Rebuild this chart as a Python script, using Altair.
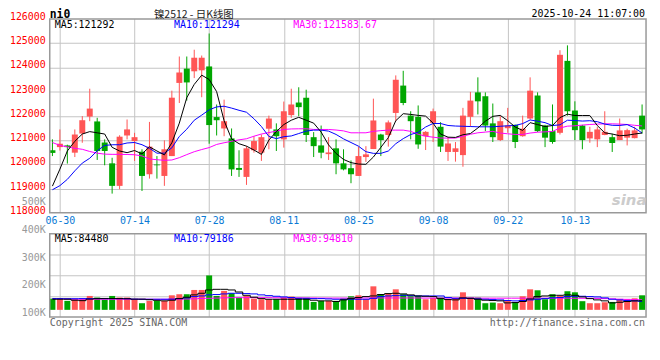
import json
import altair as alt
import pandas as pd

# ---------------- data ----------------
dates = ["06-27", "06-30", "07-01", "07-02", "07-03", "07-04",
         "07-07", "07-08", "07-09", "07-10", "07-11",
         "07-14", "07-15", "07-16", "07-17", "07-18",
         "07-21", "07-22", "07-23", "07-24", "07-25",
         "07-28", "07-29", "07-30", "07-31", "08-01",
         "08-04", "08-05", "08-06", "08-07", "08-08",
         "08-11", "08-12", "08-13", "08-14", "08-15",
         "08-18", "08-19", "08-20", "08-21", "08-22",
         "08-25", "08-26", "08-27", "08-28", "08-29",
         "09-01", "09-02", "09-03", "09-04", "09-05",
         "09-08", "09-09", "09-10", "09-11", "09-12",
         "09-15", "09-16", "09-17", "09-18", "09-19",
         "09-22", "09-23", "09-24", "09-25", "09-26",
         "09-29", "09-30", "10-09", "10-10",
         "10-13", "10-14", "10-15", "10-16", "10-17",
         "10-20", "10-21", "10-22", "10-23", "10-24"]

tick_labels = ["06-30", "07-14", "07-28", "08-11", "08-25", "09-08", "09-22", "10-13"]

opens = [120580, 120710, 120780, 120480, 121270, 121970, 121770, 120900, 120040, 119110,
         121190, 120960, 120520, 119590, 119990, 119520, 120340, 123360, 123950, 123840,
         123880, 124040, 121950, 121480, 121070, 119850, 119480, 120580, 120480, 121470,
         121440, 121030, 122030, 122550, 122750, 121120, 120780, 120420, 120660, 120040,
         119840, 119520, 120300, 120630, 121230, 121210, 122120, 123250, 122010, 121960,
         121160, 121710, 121550, 120510, 120510, 120380, 121960, 122970, 122810, 121690,
         121000, 121490, 121630, 121160, 121890, 122840, 121600, 121370, 121300, 124270,
         122220, 121600, 121070, 121030, 121210, 121120, 121000, 121100, 121080, 122010]
closes = [120470, 120850, 120710, 121230, 121820, 122300, 120550, 120550, 119110, 121140,
          121440, 121120, 119520, 120730, 119960, 120620, 122750, 123790, 123380, 124400,
          124400, 121620, 121820, 121780, 119790, 119770, 120660, 120960, 121120, 121890,
          121160, 122190, 122470, 122360, 121210, 120750, 120480, 120490, 120040, 119790,
          119590, 120340, 120410, 121810, 121000, 121730, 123490, 122530, 121780, 120820,
          121340, 122190, 120730, 120860, 120660, 122010, 122630, 122600, 121600, 121120,
          121780, 121600, 120920, 121470, 123040, 121370, 121100, 120920, 124520, 122190,
          121410, 121000, 121340, 121440, 121340, 120880, 121400, 121410, 121400, 121440]
highs = [121030, 121440, 120810, 121440, 121990, 123120, 121920, 121030, 120270, 121200,
         121850, 121300, 120620, 121750, 120340, 120990, 123040, 124450, 124450, 124730,
         124490, 125400, 122470, 122670, 121480, 120580, 120750, 121160, 121230, 122010,
         121690, 122590, 123120, 123180, 123080, 121330, 121600, 121120, 121030, 120620,
         120160, 120730, 120750, 122710, 121260, 121810, 123670, 123860, 122190, 122430,
         121370, 122300, 121740, 121120, 120920, 122330, 122990, 123590, 122970, 122510,
         121990, 122330, 121640, 122010, 123590, 122970, 121630, 122470, 124710, 124910,
         122600, 121630, 121550, 121550, 122190, 121260, 121890, 121470, 121550, 122470]
lows = [120340, 120570, 120030, 120300, 120890, 121780, 120180, 119960, 118790, 118970,
        121030, 120140, 118900, 119410, 119410, 119110, 120340, 122530, 122630, 123560,
        122770, 120850, 121190, 121160, 119520, 119480, 119150, 120480, 120140, 120620,
        120550, 120690, 121920, 121990, 120920, 120300, 120250, 120180, 119590, 119750,
        119220, 119520, 120100, 120630, 120340, 120730, 121780, 122440, 121030, 120640,
        120590, 120920, 120510, 120140, 120110, 119900, 121550, 122060, 121370, 120920,
        120960, 121300, 120670, 121140, 121850, 121330, 120710, 120850, 121230, 122010,
        121000, 120620, 120890, 120710, 121200, 120510, 121000, 120780, 121070, 121270]

ma5 = [119100, 119800, 120550, 120950, 121250, 121350, 121300, 121250, 120700, 120550,
       120480, 120570, 120430, 120720, 120550, 120390, 120890, 121700, 122750, 123300,
       123680, 123500, 123000, 121800, 121050, 120850, 120750, 120590, 120410, 121000,
       121350, 121640, 121820, 121940, 121820, 121700, 121330, 120800, 120450, 120200,
       120070, 120010, 120000, 120300, 120700, 121100, 121800, 122090, 122060, 122020,
       121990, 121700, 121250, 121120, 121110, 121220, 121270, 121500, 121780, 121980,
       122020, 121800, 121540, 121400, 121720, 121640, 121560, 121600, 121930, 122070,
       122014, 122014, 122014, 121600, 121300, 121250, 121180, 121200, 121250, 121292]
ma10 = [118950, 119120, 119380, 119730, 120050, 120250, 120560, 120780, 120808, 120808,
        120880, 120900, 120810, 120660, 120460, 120460, 120680, 121150, 121450, 121820,
        122030, 122250, 122370, 122397, 122320, 122230, 122150, 121880, 121560, 121150,
        121060, 121140, 121170, 121270, 121370, 121411, 121411, 121370, 121233, 121050,
        120900, 120750, 120520, 120452, 120452, 120548, 120850, 121060, 121230, 121320,
        121540, 121685, 121685, 121603, 121580, 121570, 121560, 121548, 121548, 121548,
        121570, 121590, 121603, 121680, 121830, 121780, 121720, 121600, 121630, 121820,
        121808, 121785, 121800, 121760, 121660, 121610, 121603, 121640, 121500, 121294]
ma30 = [120900, 120780, 120720, 120660, 120620, 120530, 120460, 120420, 120411, 120411,
        120405, 120395, 120345, 120220, 120190, 120165, 120178, 120274, 120400, 120520,
        120610, 120690, 120820, 120890, 120950, 121010, 121055, 121160, 121250, 121310,
        121370, 121440, 121460, 121466, 121466, 121440, 121438, 121438, 121415, 121380,
        121300, 121301, 121301, 121360, 121390, 121410, 121411, 121411, 121360, 121240,
        121160, 121120, 121085, 121082, 121082, 121160, 121240, 121301, 121330, 121360,
        121290, 121260, 121233, 121233, 121290, 121325, 121340, 121355, 121500, 121575,
        121590, 121620, 121644, 121660, 121671, 121671, 121660, 121644, 121610, 121583.67]

vols = [105000, 99000, 84000, 99000, 99000, 130000, 115000, 93000, 130000, 115000,
        115000, 99000, 62000, 84000, 84000, 84000, 136000, 146000, 146000, 186000,
        186000, 322000, 130000, 177000, 155000, 115000, 130000, 105000, 99000, 99000,
        99000, 115000, 124000, 108000, 108000, 74000, 84000, 84000, 84000, 105000,
        127000, 136000, 99000, 220000, 146000, 155000, 192000, 146000, 127000, 130000,
        99000, 112000, 115000, 99000, 112000, 164000, 115000, 115000, 62000, 68000,
        62000, 84000, 74000, 127000, 192000, 183000, 99000, 146000, 130000, 174000,
        164000, 81000, 62000, 62000, 71000, 74000, 99000, 99000, 108000, 136000]
vma5 = [99000, 99000, 99000, 90000, 86000, 100000, 105000, 105000, 106000, 105000,
        104000, 100000, 100000, 95000, 89000, 84000, 90000, 105000, 118000, 140000,
        155000, 186000, 192000, 192000, 186000, 167000, 136000, 118000, 105000, 99000,
        99000, 99000, 99000, 99000, 99000, 90000, 84000, 84000, 78000, 93000,
        105000, 115000, 124000, 130000, 143000, 152000, 155000, 149000, 140000, 130000,
        127000, 124000, 105000, 96000, 93000, 112000, 108000, 99000, 90000, 87000,
        84000, 65000, 68000, 78000, 102000, 124000, 130000, 136000, 136000, 140000,
        136000, 121000, 105000, 93000, 84000, 65000, 71000, 78000, 84000, 84480]
vma10 = [105000, 105000, 104000, 104000, 105000, 105000, 106000, 105000, 105000, 105000,
         104000, 100000, 99000, 99000, 99000, 99000, 100000, 105000, 112000, 124000,
         130000, 140000, 143000, 149000, 155000, 155000, 152000, 149000, 140000, 133000,
         127000, 121000, 115000, 108000, 108000, 105000, 105000, 102000, 99000, 99000,
         99000, 99000, 99000, 108000, 124000, 130000, 133000, 136000, 133000, 130000,
         130000, 130000, 130000, 115000, 108000, 108000, 108000, 102000, 99000, 96000,
         93000, 87000, 84000, 87000, 93000, 99000, 105000, 112000, 115000, 124000,
         127000, 127000, 124000, 121000, 112000, 99000, 93000, 87000, 84000, 79186]
vma30 = [104000, 103000, 102000, 100000, 100000, 99000, 99000, 99000, 99000, 99000,
         99000, 99000, 99000, 99000, 99000, 99000, 100000, 100000, 101000, 103000,
         106000, 108000, 110000, 112000, 114000, 114000, 114000, 114000, 114000, 114000,
         113000, 112000, 112000, 112000, 111000, 111000, 110000, 110000, 110000, 110000,
         110000, 111000, 111000, 111000, 111000, 111000, 111000, 111000, 111000, 111000,
         110000, 110000, 110000, 110000, 110000, 110000, 110000, 110000, 109000, 109000,
         109000, 109000, 109000, 109000, 109000, 109000, 109000, 109000, 109000, 109000,
         108000, 108000, 108000, 107000, 105000, 103000, 100000, 98000, 96000, 94810]

price_ticks = [118000, 119000, 120000, 121000, 122000, 123000, 124000, 125000, 126000]
vol_label_values = [100000, 200000, 300000, 400000, 500000]
vol_label_texts = ["100K", "200K", "300K", "400K", "500K"]

title_text = "镍2512 - 日K线图"
symbol_text = "ni0"
stamp_text = "2025-10-24 11:07:00"

# ---------------- styles / layout ----------------
MONO = "DejaVu Sans Mono"
UP = "#ff5555"
DOWN = "#00a600"
GRID = "#c4c4c4"
FRAME = "#999999"

W, H = 600, 300
P_TOP, P_BOT = 0, 195
V_TOP, V_BOT = 216, 300
X_LO, X_HI = -0.36, 79.53
P_LO, P_HI = 118000, 126000
VOL_LO, VOL_HI = -68000, 713000

n = len(dates)
tick_idx = [dates.index(d) for d in tick_labels]

df = pd.DataFrame({
    "i": list(range(n)), "date": dates,
    "open": opens, "close": closes, "high": highs, "low": lows,
    "ma5": ma5, "ma10": ma10, "ma30": ma30,
    "vol": vols, "vma5": vma5, "vma10": vma10, "vma30": vma30,
})
df["col"] = [UP if c >= o else DOWN for o, c in zip(opens, closes)]

vlab_df = pd.DataFrame({"v": vol_label_values, "lab": vol_label_texts})
ptick_df = pd.DataFrame({"p": price_ticks, "lab": [str(p) for p in price_ticks]})
one = pd.DataFrame({"k": [0]})

xscale = alt.Scale(domain=[X_LO, X_HI], nice=False, zero=False, padding=0)
xaxis = alt.Axis(values=tick_idx, labelExpr=json.dumps(dates) + "[datum.value]",
                 orient="bottom", offset=P_BOT - H, grid=False, ticks=False, domain=False,
                 labelPadding=3, labelColor="#0a7ad5", labelFont=MONO, labelFontSize=10,
                 labelOverlap=False, labelFlush=False, title=None)
X = alt.X("i:Q", scale=xscale, axis=xaxis)
COLOR = alt.Color("col:N", scale=None)

pscale = alt.Scale(domain=[P_LO, P_HI], range=[P_BOT, P_TOP], nice=False, zero=False, padding=0)
vscale = alt.Scale(domain=[VOL_LO, VOL_HI], range=[V_BOT, V_TOP], nice=False, zero=False,
                   padding=0)
vlscale = alt.Scale(domain=[86400, 386400], range=[V_BOT, V_TOP], nice=False, zero=False,
                    padding=0)


def PY(field):
    return alt.Y(field, scale=pscale, axis=None)


def VY(field):
    return alt.Y(field, scale=vscale, axis=None)


# same linear mappings as the scales above (used for the grid decoration only)
def sx(i):
    return (i - X_LO) / (X_HI - X_LO) * W


def sp(p):
    return P_BOT - (p - P_LO) / (P_HI - P_LO) * (P_BOT - P_TOP)


def box(x0, x1, y0, y1, **kw):
    return alt.Chart(one).mark_rect(**kw).encode(
        x=alt.value(x0), x2=alt.value(x1), y=alt.value(y0), y2=alt.value(y1))


def frame(top, bot):
    return box(0, W, top, bot, fillOpacity=0, stroke=FRAME, strokeWidth=1.5)


def grid_layers(h_positions, v_positions, top, bot):
    out = []
    for y in h_positions:
        yy = int(round(y))
        out.append(box(0, W, yy, yy + 1, color=GRID))
    for x in v_positions:
        xx = int(round(x))
        out.append(box(xx, xx + 1, top, bot, color=GRID))
    return out


def text(txt, x, y, color="#000000", size=10, align="left", font=MONO,
         weight="normal", style="normal"):
    return alt.Chart(one).mark_text(text=txt, align=align, baseline="alphabetic", font=font,
                                    fontSize=size, fontWeight=weight, fontStyle=style,
                                    color=color).encode(x=alt.value(x), y=alt.value(y))


base = alt.Chart(df)

# price panel
p_grid = grid_layers([sp(p) for p in price_ticks[1:-1]], [sx(i) for i in tick_idx],
                     P_TOP, P_BOT)
p_labels = alt.Chart(ptick_df).mark_text(align="right", baseline="middle", font=MONO,
                                         fontSize=10, color="#ff0000", dy=-2).encode(
    x=alt.value(-4), y=PY("p:Q"), text="lab:N")
wick = base.mark_rule(strokeWidth=1).encode(x=X, y=PY("low:Q"), y2="high:Q", color=COLOR)
body = base.mark_bar(size=6).encode(x=X, y=PY("open:Q"), y2="close:Q", color=COLOR)
l5 = base.mark_line(color="#000000", strokeWidth=1).encode(x=X, y=PY("ma5:Q"))
l10 = base.mark_line(color="#0000ff", strokeWidth=1).encode(x=X, y=PY("ma10:Q"))
l30 = base.mark_line(color="#ff00ff", strokeWidth=1).encode(x=X, y=PY("ma30:Q"))
price_group = alt.layer(wick, body, p_labels, l30, l10, l5, frame(P_TOP, P_BOT))

# volume panel
v_h = [V_BOT - (V_BOT - V_TOP) * k / 4 for k in (1, 2, 3)]
v_grid = grid_layers(v_h, [sx(i) for i in tick_idx], V_TOP, V_BOT)
vbars = base.mark_bar(size=6).encode(x=X, y=VY("vol:Q"), y2=alt.datum(0), color=COLOR)
vm5 = base.mark_line(color="#000000", strokeWidth=1, interpolate="step").encode(
    x=X, y=VY("vma5:Q"))
vm10 = base.mark_line(color="#0000ff", strokeWidth=1, interpolate="step").encode(
    x=X, y=VY("vma10:Q"))
vm30 = base.mark_line(color="#ff00ff", strokeWidth=1, interpolate="step").encode(
    x=X, y=VY("vma30:Q"))
vol_group = alt.layer(vbars, vm30, vm10, vm5, frame(V_TOP, V_BOT))

vlabels = alt.Chart(vlab_df).mark_text(align="right", baseline="middle", font=MONO,
                                       fontSize=10, color="#999999").encode(
    x=alt.value(-4), y=alt.Y("v:Q", scale=vlscale, axis=None), text="lab:N")

texts = [
    text(symbol_text, 0, -0.5, size=11.5, weight="bold"),
    text(title_text, 145, -0.5, size=10.5, align="center", font="Noto Sans CJK SC",
         color="#222222"),
    text(stamp_text, 599, -2, size=10, align="right"),
    text(f"MA5:{ma5[-1]}", 5, 9),
    text(f"MA10:{ma10[-1]}", 125, 9, color="#0000ff"),
    text(f"MA30:{ma30[-1]}", 245, 9, color="#ff00ff"),
    text(f"MA5:{vma5[-1]}", 5, 224),
    text(f"MA10:{vma10[-1]}", 125, 224, color="#0000ff"),
    text(f"MA30:{vma30[-1]}", 245, 224, color="#ff00ff"),
    text("Copyright 2025 SINA.COM", 0, 309, color="#666666"),
    text("http://finance.sina.com.cn", 599, 309, color="#666666", align="right"),
    text("sina", 583, 187, color="#cccccc", size=15, font="DejaVu Sans",
         weight="bold", style="italic", align="center"),
]

chart = alt.layer(*p_grid, *v_grid, price_group, vol_group, vlabels, *texts).resolve_scale(
    y="independent"
).properties(
    width=W, height=H,
    autosize=alt.AutoSizeParams(type="none"),
    padding={"left": 42, "top": 10, "right": 6, "bottom": 22},
    background="#ffffff",
).configure_view(stroke=None)

chart.save("out.html", embed_options={"renderer": "svg", "actions": False})
